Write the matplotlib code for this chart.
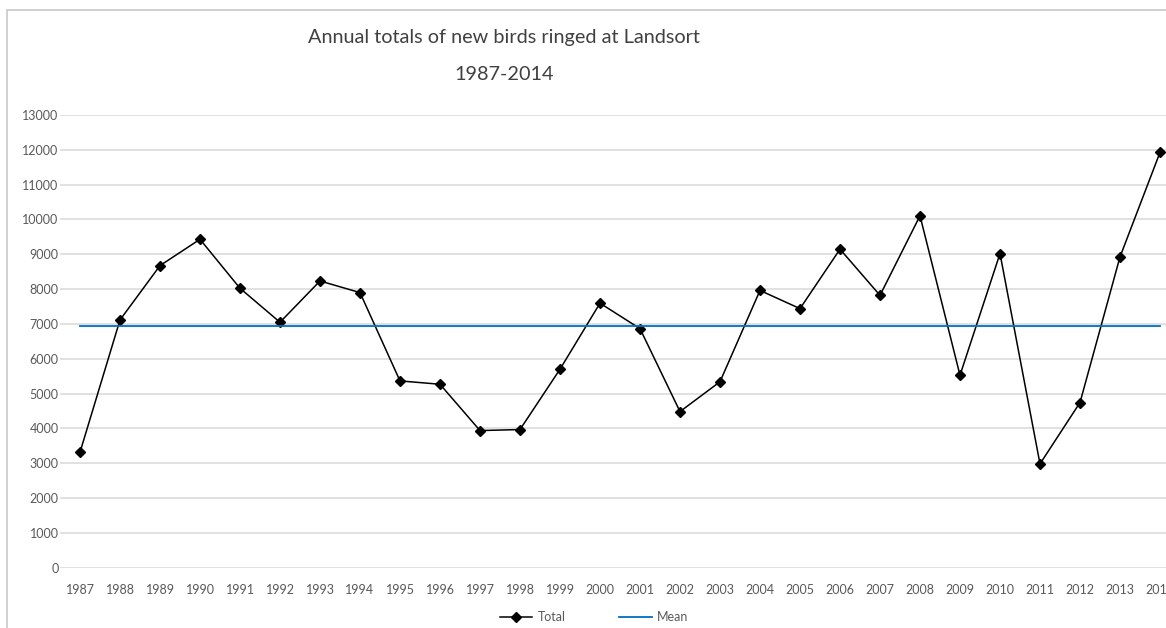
import matplotlib.pyplot as plt
from matplotlib.patches import Rectangle

years = [str(y) for y in range(1987, 2015)]
totals = [3316, 7115, 8675, 9431, 8024, 7048, 8234, 7900, 5364, 5268,
          3938, 3967, 5700, 7596, 6865, 4483, 5340, 7962, 7440, 9147,
          7821, 10106, 5527, 9021, 2981, 4743, 8925, 11926]
mean_value = 6935
mean = [mean_value] * len(years)
yticks = list(range(0, 14000, 1000))

plt.rcParams['font.family'] = ['Lato', 'DejaVu Sans']

W, H = 1166, 628
fig = plt.figure(figsize=(W / 100, H / 100), dpi=100)

# chart border (cropped on the right and bottom)
fig.patches.append(Rectangle((7 / W, -0.1), 1.2, 1 - 10 / H + 0.1,
                             transform=fig.transFigure, fill=False,
                             edgecolor='#c8c8c8', lw=1.2))

ax = fig.add_axes([60 / W, 1 - 567.7 / H, 1120 / W, 452.7 / H])
x = list(range(len(years)))
ax.plot(x, totals, color='black', lw=1.1, marker='D', ms=5.5, label='Total')
ax.plot(x, mean, color='#0070C0', lw=1.3, label='Mean')

ax.set_xlim(-0.5, len(years) - 0.5)
ax.set_ylim(0, 13000)
ax.set_yticks(yticks)
ax.set_xticks(x)
ax.set_xticklabels(years)
ax.grid(axis='y', color='#d9d9d9', lw=1.1)
ax.set_axisbelow(True)
for s in ax.spines.values():
    s.set_visible(False)
ax.tick_params(axis='y', length=0, pad=1, labelsize=9, labelcolor='#595959')
ax.tick_params(axis='x', length=0, pad=12, labelsize=9, labelcolor='#595959')

fig.text(504 / W, 1 - 38 / H, 'Annual totals of new birds ringed at Landsort',
         ha='center', va='center', fontsize=14.3, color='#404040')
fig.text(504 / W, 1 - 75 / H, '1987-2014',
         ha='center', va='center', fontsize=14.3, color='#404040')

fig.legend(loc='center', bbox_to_anchor=(594 / W, 1 - 617 / H), ncol=2,
           frameon=False, fontsize=9, handlelength=2.6, columnspacing=4.3,
           handletextpad=0.4, labelcolor='#595959')

fig.savefig('out.png', dpi=100)
